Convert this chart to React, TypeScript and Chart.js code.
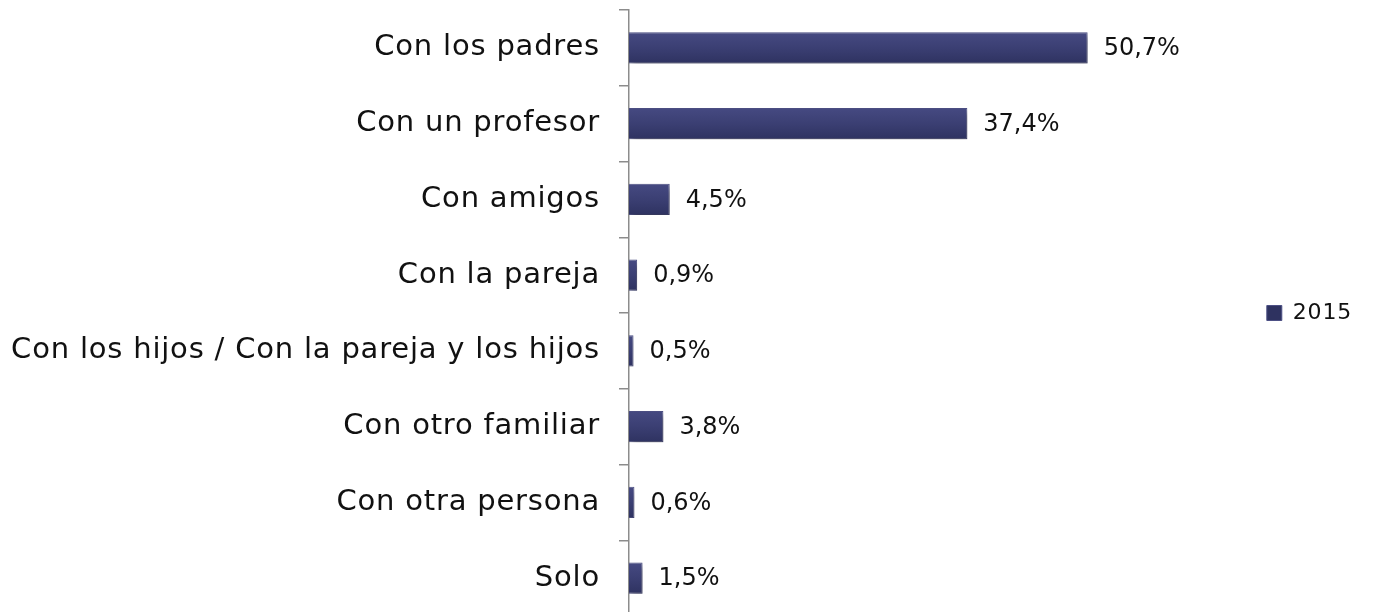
import React, { useEffect, useRef } from "react";
import { Chart, registerables } from "chart.js";

Chart.register(...registerables);

const categories = [
  "Con los padres",
  "Con un profesor",
  "Con amigos",
  "Con la pareja",
  "Con los hijos / Con la pareja y los hijos",
  "Con otro familiar",
  "Con otra persona",
  "Solo",
];
const seriesLabel = "2015";
const values2015 = [50.7, 37.4, 4.5, 0.9, 0.5, 3.8, 0.6, 1.5];
const valueLabels = ["50,7%", "37,4%", "4,5%", "0,9%", "0,5%", "3,8%", "0,6%", "1,5%"];

const FONT = "'DejaVu Sans', sans-serif";

const spacingPlugin = {
  id: "spacing",
  beforeUpdate(chart: any) {
    chart.ctx.letterSpacing = "0.8px";
  },
  beforeDraw(chart: any) {
    chart.ctx.letterSpacing = "0.8px";
  },
};

const barShadow = {
  id: "barShadow",
  beforeDatasetDraw(chart: any) {
    const ctx = chart.ctx;
    ctx.save();
    ctx.shadowColor = "rgba(0,0,0,0.35)";
    ctx.shadowBlur = 6;
    ctx.shadowOffsetX = 3;
    ctx.shadowOffsetY = 4;
  },
  afterDatasetDraw(chart: any) {
    chart.ctx.restore();
  },
};

const valueLabelPlugin = {
  id: "valueLabels",
  afterDatasetsDraw(chart: any) {
    const ctx = chart.ctx;
    const meta = chart.getDatasetMeta(0);
    ctx.save();
    ctx.letterSpacing = "0px";
    ctx.font = `24px ${FONT}`;
    ctx.fillStyle = "#111";
    ctx.textAlign = "left";
    ctx.textBaseline = "middle";
    meta.data.forEach((bar: any, i: number) => {
      ctx.fillText(valueLabels[i], bar.x + 16, bar.y + 1);
    });
    ctx.restore();
  },
};

export default function App() {
  const ref = useRef<HTMLCanvasElement>(null);
  useEffect(() => {
    if (!ref.current) return;
    const chart = new Chart(ref.current, {
      type: "bar",
      data: {
        labels: categories,
        datasets: [
          {
            label: seriesLabel,
            data: values2015,
            backgroundColor: (c: any) => {
              if (c.type !== "data") return "#3a3e72";
              const ch = c.chart;
              const ys = ch.scales && ch.scales.y;
              if (!ys || !ch.chartArea) return "#3a3e72";
              const yc = ys.getPixelForValue(c.dataIndex);
              const g = ch.ctx.createLinearGradient(0, yc - 16, 0, yc + 16);
              g.addColorStop(0, "#464a82");
              g.addColorStop(0.5, "#3b3f73");
              g.addColorStop(1, "#2e3260");
              return g;
            },
            borderColor: "#4d5085",
            borderWidth: 1,
            categoryPercentage: 1,
            barPercentage: 0.41,
          },
        ],
      },
      options: {
        indexAxis: "y",
        animation: false,
        responsive: false,
        layout: { padding: { top: 10, bottom: 2, right: 14, left: 0 } },
        scales: {
          x: {
            display: false,
            min: 0,
            max: 69.4,
          },
          y: {
            grid: {
              offset: true,
              drawOnChartArea: false,
              tickLength: 10,
              color: "#8c8c8c",
              lineWidth: 1.5,
            },
            border: { color: "#8c8c8c", width: 1.5 },
            ticks: {
              color: "#111",
              font: { family: FONT, size: 29 },
              padding: 19,
            },
            afterFit(scale: any) {
              scale.width = 629;
              scale.paddingTop = 0;
              scale.paddingBottom = 0;
            },
          },
        },
        plugins: {
          legend: {
            position: "right",
            labels: {
              boxWidth: 15,
              boxHeight: 15,
              color: "#111",
              font: { family: FONT, size: 22 },
              padding: 10,
            },
          },
          tooltip: { enabled: false },
        },
      },
      plugins: [spacingPlugin, barShadow, valueLabelPlugin],
    });
    return () => chart.destroy();
  }, []);
  return (
    <div style={{ position: "fixed", top: 0, left: 0, width: 1376, height: 612, overflow: "hidden", background: "#fff" }}>
      <canvas ref={ref} width={1376} height={618} style={{ width: 1376, height: 618, display: "block" }} />
    </div>
  );
}
